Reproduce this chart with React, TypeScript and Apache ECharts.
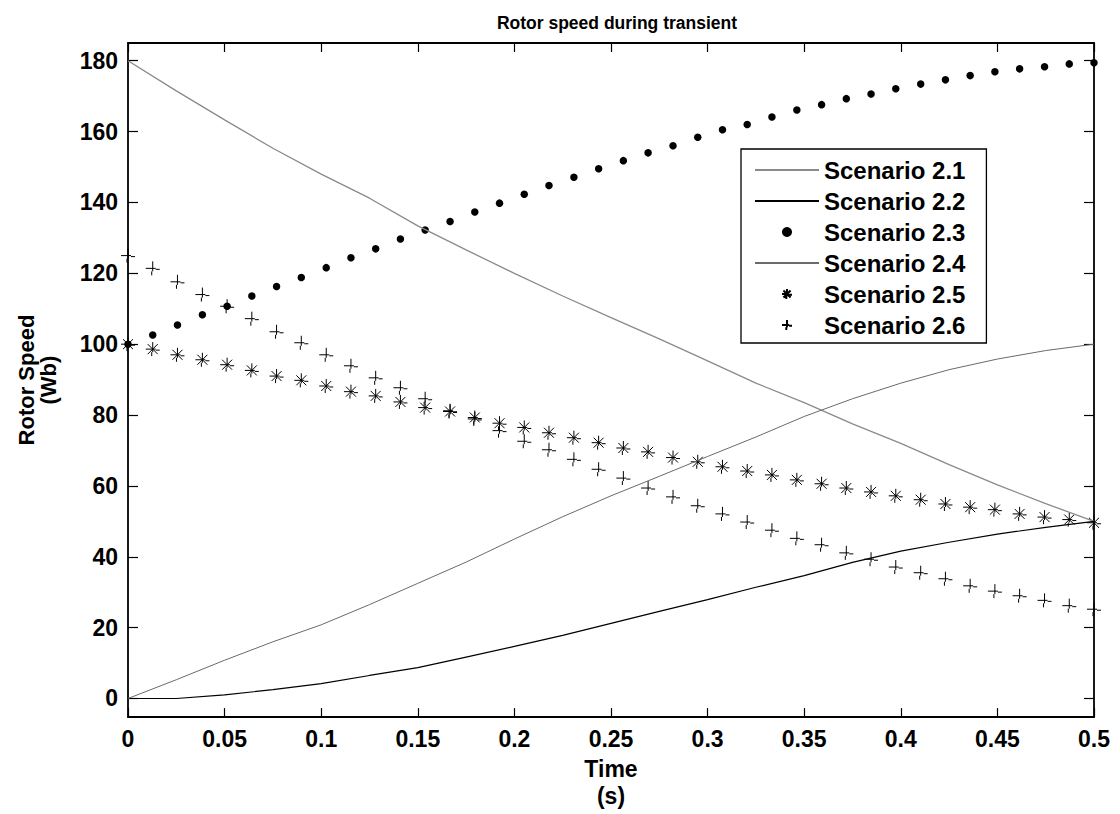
import React, { useEffect, useRef } from "react";
import * as echarts from "echarts";

const FONT = "'Liberation Sans', Arial, Helvetica, sans-serif";

// time grid for the solid-line scenarios (s)
const lineTime = [0, 0.025, 0.05, 0.075, 0.1, 0.125, 0.15, 0.175, 0.2, 0.225, 0.25, 0.275, 0.3, 0.325, 0.35, 0.375, 0.4, 0.425, 0.45, 0.475, 0.5];
// time grid for the marker scenarios (s)
const markerTime = [0, 0.0128, 0.0256, 0.0385, 0.0513, 0.0641, 0.0769, 0.0897, 0.1026, 0.1154, 0.1282, 0.141, 0.1538, 0.1667, 0.1795, 0.1923, 0.2051, 0.2179, 0.2308, 0.2436, 0.2564, 0.2692, 0.2821, 0.2949, 0.3077, 0.3205, 0.3333, 0.3462, 0.359, 0.3718, 0.3846, 0.3974, 0.4103, 0.4231, 0.4359, 0.4487, 0.4615, 0.4744, 0.4872, 0.5];

const scenario21 = [180, 171.5, 163.3, 155.3, 148, 141.2, 133.4, 126.6, 120, 113.6, 107.5, 101.5, 95.3, 89, 83.5, 77.5, 72, 66, 60.3, 55, 50];
const scenario22 = [0, 0, 1.0, 2.5, 4.2, 6.5, 8.7, 11.7, 14.7, 17.8, 21.2, 24.6, 27.9, 31.4, 34.7, 38.4, 41.6, 44.1, 46.4, 48.3, 50];
const scenario23 = [100, 102.6, 105.4, 108.3, 110.7, 113.6, 116.3, 118.8, 121.6, 124.4, 126.9, 129.7, 132.2, 134.6, 137.3, 139.8, 142.3, 144.8, 147.1, 149.5, 151.8, 154, 156, 158.4, 160.5, 162, 164.1, 166.1, 167.6, 169.3, 170.6, 172.1, 173.4, 174.6, 175.8, 176.9, 177.7, 178.3, 179.1, 179.4];
const scenario24 = [0, 5.3, 10.8, 16, 20.8, 26.5, 32.5, 38.5, 45, 51.3, 57.2, 62.7, 68.3, 73.8, 79.6, 84.6, 89, 92.8, 95.8, 98.2, 100];
const scenario25 = [100, 98.6, 97, 95.6, 94.2, 92.6, 91, 89.8, 88.2, 86.6, 85.4, 83.7, 82.1, 81, 79.3, 77.7, 76.5, 75, 73.6, 72.2, 70.7, 69.6, 68, 66.8, 65.4, 64.2, 63.1, 61.7, 60.6, 59.4, 58.3, 57.2, 56.1, 54.9, 54, 53.3, 52.1, 51.2, 50.5, 49.6];
const scenario26 = [125, 121.4, 117.6, 114, 110.7, 107.2, 103.5, 100.4, 97, 93.9, 90.5, 87.7, 84.6, 81.2, 78.9, 75.6, 72.6, 70.2, 67.5, 64.7, 62.2, 59.4, 56.9, 54.4, 52.1, 49.8, 47.5, 45.2, 43.4, 41.1, 39.3, 37.1, 35.5, 33.8, 31.8, 30.3, 29, 27.7, 26.2, 25.2];

const seriesNames = ["Scenario 2.1", "Scenario 2.2", "Scenario 2.3", "Scenario 2.4", "Scenario 2.5", "Scenario 2.6"];
const xTicks = [0, 0.05, 0.1, 0.15, 0.2, 0.25, 0.3, 0.35, 0.4, 0.45, 0.5];
const yTicks = [0, 20, 40, 60, 80, 100, 120, 140, 160, 180];

const PLUS = "path://M0,7 L10,7 M10,8 L14,8 M7,0 L7,10 M6,10 L6,14";
const STAR = "path://M0,7 L10,7 M10,8 L14,8 M7,0 L7,10 M6,10 L6,14 M2,2 L12,12 M12,2 L2,12";

const pair = (t: number[], v: number[]) => v.map((y, i) => [t[i], y]);

const boldText = (size: number) => ({ fontFamily: FONT, fontWeight: "bold" as const, fontSize: size, color: "#000" });

export default function App() {
  const ref = useRef<HTMLDivElement>(null);
  useEffect(() => {
    if (!ref.current) return;
    const chart = echarts.init(ref.current, null, { renderer: "svg" });
    const axisLine = { show: true, onZero: false, lineStyle: { color: "#000", width: 1.8 } };
    const tickStyle = { color: "#000", width: 1.2 };
    chart.setOption({
      animation: false,
      backgroundColor: "#fff",
      title: {
        text: "Rotor speed during transient",
        left: 612,
        top: 9,
        textAlign: "center",
        textStyle: boldText(17.5),
      },
      grid: { left: 128, right: 26, top: 43, bottom: 89 },
      legend: {
        orient: "vertical",
        left: 741,
        top: 149,
        padding: [9, 21, 6, 13],
        itemGap: 7,
        itemWidth: 64,
        itemHeight: 10,
        borderColor: "#000",
        borderWidth: 1.3,
        backgroundColor: "#fff",
        selectedMode: false,
        textStyle: { ...boldText(24), lineHeight: 24 },
        data: seriesNames,
      },
      xAxis: [
        {
          type: "value",
          min: 0,
          max: 0.5,
          position: "bottom",
          axisLine,
          axisTick: { inside: true, length: 9, lineStyle: tickStyle, customValues: xTicks },
          axisLabel: { ...boldText(23), margin: 10, customValues: xTicks },
          splitLine: { show: false },
          name: "Time\n(s)",
          nameLocation: "middle",
          nameGap: 35,
          nameTextStyle: { ...boldText(23), lineHeight: 27 },
        },
        {
          type: "value",
          min: 0,
          max: 0.5,
          position: "top",
          axisLine,
          axisTick: { inside: true, length: 9, lineStyle: tickStyle, customValues: xTicks },
          axisLabel: { show: false },
          splitLine: { show: false },
        },
      ],
      yAxis: [
        {
          type: "value",
          min: -5.25,
          max: 185,
          position: "left",
          axisLine,
          axisTick: { inside: true, length: 10, lineStyle: tickStyle, customValues: yTicks },
          axisLabel: { ...boldText(23), margin: 10, customValues: yTicks },
          splitLine: { show: false },
          name: "Rotor Speed\n(Wb)",
          nameLocation: "middle",
          nameRotate: 90,
          nameGap: 69,
          nameTextStyle: { ...boldText(22), lineHeight: 22 },
        },
        {
          type: "value",
          min: -5.25,
          max: 185,
          position: "right",
          axisLine,
          axisTick: { inside: true, length: 10, lineStyle: tickStyle, customValues: yTicks },
          axisLabel: { show: false },
          splitLine: { show: false },
        },
      ],
      series: [
        {
          name: seriesNames[0],
          type: "line",
          data: pair(lineTime, scenario21),
          symbol: "none",
          lineStyle: { color: "#8a8a8a", width: 1.3 },
          itemStyle: { color: "#8a8a8a", opacity: 0 },
        },
        {
          name: seriesNames[1],
          type: "line",
          data: pair(lineTime, scenario22),
          symbol: "none",
          lineStyle: { color: "#000", width: 1.2 },
          itemStyle: { color: "#000", opacity: 0 },
        },
        {
          name: seriesNames[2],
          type: "scatter",
          data: pair(markerTime, scenario23),
          symbol: "circle",
          symbolSize: 7.5,
          itemStyle: { color: "#000", opacity: 1 },
        },
        {
          name: seriesNames[3],
          type: "line",
          data: pair(lineTime, scenario24),
          symbol: "none",
          lineStyle: { color: "#6a6a6a", width: 1 },
          itemStyle: { color: "#6a6a6a", opacity: 0 },
        },
        {
          name: seriesNames[4],
          type: "scatter",
          data: pair(markerTime, scenario25),
          symbol: STAR,
          symbolSize: 14,
          itemStyle: { color: "transparent", borderColor: "#000", borderWidth: 1, opacity: 1 },
        },
        {
          name: seriesNames[5],
          type: "scatter",
          data: pair(markerTime, scenario26),
          symbol: PLUS,
          symbolSize: 14,
          itemStyle: { color: "transparent", borderColor: "#000", borderWidth: 1, opacity: 1 },
        },
      ],
    });
    return () => chart.dispose();
  }, []);
  return (
    <div
      ref={ref}
      style={{ position: "fixed", left: 0, top: 0, width: 1120, height: 814, background: "#fff" }}
    />
  );
}
